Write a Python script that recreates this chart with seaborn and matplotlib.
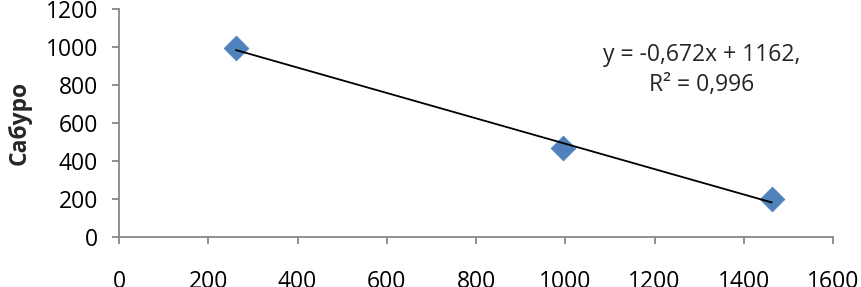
import numpy as np
import pandas as pd
import matplotlib
matplotlib.use("Agg")
import matplotlib.pyplot as plt
import seaborn as sns

x_vals = [262, 995, 1463]
y_vals = [995, 466, 199]
x_ticks = [0, 200, 400, 600, 800, 1000, 1200, 1400, 1600]
y_ticks = [0, 200, 400, 600, 800, 1000, 1200]
y_label = "Сабуро"
eq_text = "y = -0,672x + 1162,\nR² = 0,996"

sns.set_style("white")
plt.rcParams['font.family'] = ['Open Sans', 'DejaVu Sans']

fig = plt.figure(figsize=(8.61, 2.87), dpi=100)
ax = fig.add_axes([119/861, 50/287, (833-119)/861, (237-9)/287])

df = pd.DataFrame({"x": x_vals, "y": y_vals})
coef = np.polyfit(df["x"], df["y"], 1)
tx = np.array([df["x"].min(), df["x"].max()])
trend = pd.DataFrame({"x": tx, "y": np.polyval(coef, tx)})
sns.lineplot(data=trend, x="x", y="y", ax=ax, color="black", linewidth=1.3, zorder=3)
sns.scatterplot(data=df, x="x", y="y", ax=ax, marker="D", s=160, color="#4F81BD",
                edgecolor="#4F81BD", linewidth=0.5, zorder=2, clip_on=False)

ax.set_xlim(0, 1600)
ax.set_ylim(0, 1200)
ax.set_xticks(x_ticks)
ax.set_yticks(y_ticks)
ax.set_xticklabels([str(v) for v in x_ticks])
ax.set_yticklabels([str(v) for v in y_ticks])
ax.tick_params(axis='both', labelsize=16.5, colors='#878787', labelcolor='black',
               length=5, width=1.3, direction='out', left=True, bottom=True)
ax.tick_params(axis='x', pad=19)
ax.tick_params(axis='y', pad=10)
for s in ['top', 'right']:
    ax.spines[s].set_visible(False)
for s in ['left', 'bottom']:
    ax.spines[s].set_color('#878787')
    ax.spines[s].set_linewidth(1.3)

ax.set_xlabel("")
ax.set_ylabel(y_label, fontsize=16.5, fontweight='bold', labelpad=10)
ax.text(1305, 880, eq_text, fontsize=16.5, ha='center', va='center', linespacing=1.3)

fig.savefig("out.png", dpi=100)
